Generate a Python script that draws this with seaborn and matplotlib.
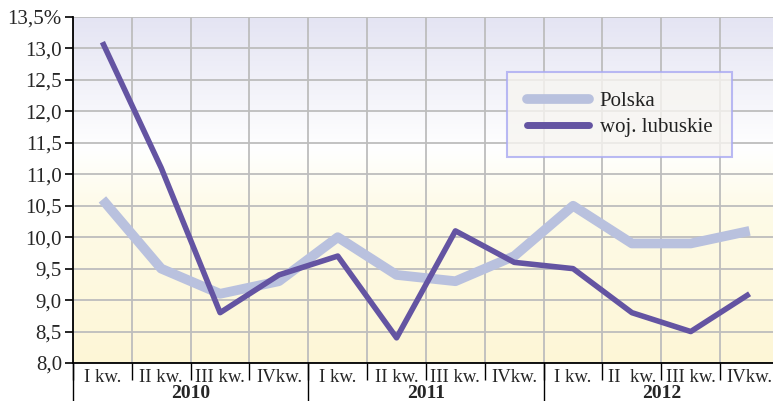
import numpy as np
import pandas as pd
import matplotlib
matplotlib.use("Agg")
import matplotlib.pyplot as plt
import seaborn as sns
from matplotlib.colors import LinearSegmentedColormap
from matplotlib.lines import Line2D

quarters = ["I kw.", "II kw.", "III kw.", "IVkw.", "I kw.", "II kw.", "III kw.", "IVkw.",
            "I kw.", "II  kw.", "III kw.", "IVkw."]
years = ["2010", "2011", "2012"]
polska = [10.6, 9.5, 9.1, 9.3, 10.0, 9.4, 9.3, 9.7, 10.5, 9.9, 9.9, 10.1]
lubuskie = [13.1, 11.1, 8.8, 9.4, 9.7, 8.4, 10.1, 9.6, 9.5, 8.8, 8.5, 9.1]
yticks = [8.0, 8.5, 9.0, 9.5, 10.0, 10.5, 11.0, 11.5, 12.0, 12.5, 13.0, 13.5]

sns.set_theme(style="white")
plt.rcParams["font.family"] = ["Liberation Serif", "DejaVu Serif"]

pos = np.arange(len(quarters))
df = pd.DataFrame({
    "pos": np.concatenate([pos, pos]),
    "value": polska + lubuskie,
    "series": ["Polska"] * len(pos) + ["woj. lubuskie"] * len(pos),
})

W, H = 773, 401
fig = plt.figure(figsize=(W / 100, H / 100), dpi=100)
fig.patch.set_facecolor("white")
ax = fig.add_axes([73 / W, (H - 363) / H, 706 / W, 346 / H])

# background gradient
cmap = LinearSegmentedColormap.from_list(
    "bg", [(0.0, "#fdf6d6"), (0.45, "#fefbe8"), (0.62, "#ffffff"), (1.0, "#e4e4f3")])
grad = np.linspace(0, 1, 256).reshape(-1, 1)
ax.imshow(grad, cmap=cmap, aspect="auto", origin="lower",
          extent=[0, 1, 0, 1], transform=ax.transAxes, zorder=0)

sns.lineplot(data=df, x="pos", y="value", hue="series",
             palette={"Polska": "#b9c1de", "woj. lubuskie": "#6454a2"},
             ax=ax, zorder=3, legend=False)
lines = ax.get_lines()
lines[0].set_linewidth(7)
lines[0].set_solid_capstyle("butt")
lines[1].set_linewidth(4)
lines[1].set_solid_capstyle("butt")

ax.set_xlim(-0.5, len(quarters) - 0.5)
ax.set_ylim(8.0, 13.5)
ax.set_xlabel("")
ax.set_ylabel("")

# y axis
ax.set_yticks(yticks)
ylabels = [f"{v:.1f}".replace(".", ",") for v in yticks]
ylabels[-1] = ylabels[-1] + "%"
ax.set_yticklabels(ylabels, fontsize=15)
ax.tick_params(axis="y", direction="out", length=6, width=1.2, color="black", pad=2,
               left=True)

# x axis
ax.set_xticks(pos)
ax.set_xticklabels(quarters, fontsize=13.5)
ax.set_xticks(np.arange(-0.5, len(quarters)), minor=True)
ax.tick_params(axis="x", which="major", length=0, pad=4, bottom=True)
ax.tick_params(axis="x", which="minor", direction="out", length=12, width=1.0,
               color="black", bottom=True)

ax.grid(True, axis="y", which="major", color="#bdbdbd", linewidth=1.3, zorder=1)
ax.grid(True, axis="x", which="minor", color="#bdbdbd", linewidth=1.3, zorder=1)
ax.set_axisbelow(True)

for s in ["top", "right"]:
    ax.spines[s].set_visible(False)
for s in ["left", "bottom"]:
    ax.spines[s].set_color("black")
    ax.spines[s].set_linewidth(1.3)

# year separators and labels
for i, y in enumerate(years):
    ax.axvline(-0.5 + 4 * i, ymin=-0.12, ymax=0, color="black", linewidth=1.0,
               clip_on=False)
    ax.text(1.5 + 4 * i, -0.088, y, transform=ax.get_xaxis_transform(),
            ha="center", va="center", fontsize=14, fontweight="bold")

# legend
handles = [Line2D([], [], color="#b9c1de", linewidth=7),
           Line2D([], [], color="#6454a2", linewidth=5)]
leg = ax.legend(handles, ["Polska", "woj. lubuskie"], loc="upper left",
                bbox_to_anchor=((507 - 73) / 706, (363 - 72) / 346),
                fontsize=15, frameon=True, fancybox=False, handlelength=3.0,
                handletextpad=0.5, borderpad=0.95, labelspacing=0.3,
                borderaxespad=0)
leg.get_frame().set_facecolor("#f7f5f1")
leg.get_frame().set_edgecolor("#a9a9f2")
leg.get_frame().set_linewidth(1.5)
for t in leg.get_texts():
    t.set_color("#222222")
leg.set_zorder(5)

fig.savefig("out.png", dpi=100)
